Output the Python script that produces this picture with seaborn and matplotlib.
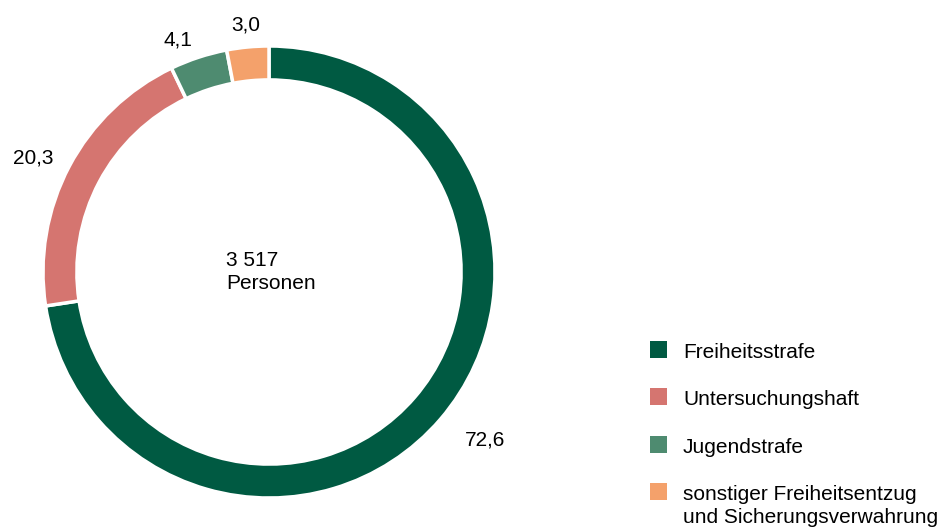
import numpy as np
import seaborn as sns
import matplotlib.pyplot as plt
from matplotlib.patches import Rectangle

# Daten
kategorien = ["Freiheitsstrafe", "Untersuchungshaft", "Jugendstrafe",
              "sonstiger Freiheitsentzug\nund Sicherungsverwahrung"]
anteile = [72.6, 20.3, 4.1, 3.0]
farben = ["#005A42", "#D57570", "#4E8B70", "#F4A16B"]
gesamt_text = "3 517\nPersonen"

sns.set_theme(style="white")
plt.rcParams['font.family'] = ['Liberation Sans', 'DejaVu Sans']

W, H = 951, 529
fig = plt.figure(figsize=(W / 100, H / 100), dpi=100)

# Ring-Achse (Mittelpunkt und Radius in Pixeln)
cx, cy, R = 269, 272, 226
ax = fig.add_axes([(cx - R) / W, (H - cy - R) / H, 2 * R / W, 2 * R / H])
ax.axis("off")

wedges, _ = ax.pie(anteile, colors=farben, startangle=90, counterclock=False,
                   radius=1, wedgeprops=dict(width=0.15, edgecolor="white", linewidth=2.5))
ax.set_aspect("equal", adjustable="datalim")
ax.set_xlim(-1, 1)
ax.set_ylim(-1, 1)

# Werte aussen am Ring
for w, v in zip(wedges, anteile):
    ang = np.deg2rad((w.theta1 + w.theta2) / 2)
    c, s = np.cos(ang), np.sin(ang)
    if abs(c) < 0.3:
        ha, r = "center", 1.1
    elif c > 0:
        ha, r = "left", 1.14
    else:
        ha, r = "right", 1.08
    ax.text(r * c, r * s, f"{v:.1f}".replace(".", ","), ha=ha, va="center",
            fontsize=15, color="black", clip_on=False)

ax.text(-0.19, 0.0, gesamt_text, ha="left", va="center", fontsize=15,
        color="black", linespacing=1.3)

# Legende manuell (Pixelkoordinaten)
lax = fig.add_axes([0, 0, 1, 1])
lax.set_xlim(0, W)
lax.set_ylim(H, 0)
lax.axis("off")
zeilen_y = [349, 396, 444, 491]
for yy, lab, col in zip(zeilen_y, kategorien, farben):
    lax.add_patch(Rectangle((650, yy - 8.5), 17, 17, facecolor=col, edgecolor="none"))
    lax.text(683, yy - 6, lab, ha="left", va="top", fontsize=15,
             color="black", linespacing=1.25)

fig.savefig("out.png", dpi=100)
